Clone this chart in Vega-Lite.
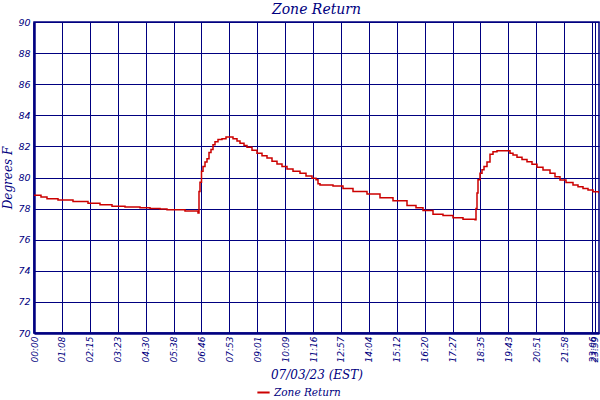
{
  "$schema": "https://vega.github.io/schema/vega-lite/v6.json",
  "width": 565,
  "height": 311,
  "autosize": {"type": "none"},
  "padding": {"left": 34, "top": 22, "right": 1, "bottom": 67},
  "background": "white",
  "title": {
    "text": "Zone Return",
    "font": "DejaVu Serif",
    "fontStyle": "italic",
    "fontWeight": "normal",
    "fontSize": 14,
    "color": "#000080",
    "anchor": "middle",
    "offset": 0
  },
  "config": {
    "view": {"stroke": "#000080", "strokeWidth": 1.5},
    "axis": {
      "labelColor": "#000080",
      "titleColor": "#000080",
      "gridColor": "#000080",
      "gridOpacity": 1,
      "gridWidth": 1,
      "domainColor": "#000080",
      "domainWidth": 2.5,
      "ticks": false,
      "labelFont": "DejaVu Sans",
      "labelFontStyle": "italic",
      "labelFontSize": 9,
      "titleFont": "DejaVu Serif",
      "titleFontStyle": "italic",
      "titleFontWeight": "normal",
      "titleFontSize": 12
    }
  },
  "data": {
    "values": [
      {"sample": 0, "temp": 78.86},
      {"sample": 7, "temp": 78.75},
      {"sample": 13, "temp": 78.63},
      {"sample": 24, "temp": 78.55},
      {"sample": 39, "temp": 78.45},
      {"sample": 54, "temp": 78.35},
      {"sample": 66, "temp": 78.25},
      {"sample": 78, "temp": 78.15},
      {"sample": 91, "temp": 78.1},
      {"sample": 106, "temp": 78.05},
      {"sample": 116, "temp": 78.0},
      {"sample": 126, "temp": 77.98},
      {"sample": 133, "temp": 77.92},
      {"sample": 151, "temp": 77.85},
      {"sample": 164, "temp": 77.72},
      {"sample": 165, "temp": 79.1},
      {"sample": 166, "temp": 79.7},
      {"sample": 167.5, "temp": 80.4},
      {"sample": 169, "temp": 80.7},
      {"sample": 171, "temp": 81.0},
      {"sample": 173, "temp": 81.2},
      {"sample": 175, "temp": 81.6},
      {"sample": 177, "temp": 81.8},
      {"sample": 179, "temp": 82.1},
      {"sample": 181, "temp": 82.3},
      {"sample": 184, "temp": 82.45},
      {"sample": 188, "temp": 82.5},
      {"sample": 192, "temp": 82.6},
      {"sample": 199, "temp": 82.5},
      {"sample": 203, "temp": 82.35},
      {"sample": 206, "temp": 82.2},
      {"sample": 210, "temp": 82.05},
      {"sample": 213, "temp": 81.95},
      {"sample": 218, "temp": 81.75},
      {"sample": 223, "temp": 81.56},
      {"sample": 228, "temp": 81.4},
      {"sample": 233, "temp": 81.25},
      {"sample": 238, "temp": 81.05},
      {"sample": 243, "temp": 80.87},
      {"sample": 248, "temp": 80.7},
      {"sample": 253, "temp": 80.55},
      {"sample": 259, "temp": 80.4},
      {"sample": 266, "temp": 80.27},
      {"sample": 272, "temp": 80.1},
      {"sample": 278, "temp": 79.95},
      {"sample": 282, "temp": 79.85},
      {"sample": 284, "temp": 79.6},
      {"sample": 286, "temp": 79.52},
      {"sample": 299, "temp": 79.45},
      {"sample": 309, "temp": 79.3},
      {"sample": 319, "temp": 79.1},
      {"sample": 333, "temp": 78.94},
      {"sample": 346, "temp": 78.7},
      {"sample": 359, "temp": 78.5},
      {"sample": 373, "temp": 78.2},
      {"sample": 382, "temp": 78.05},
      {"sample": 389, "temp": 77.87},
      {"sample": 399, "temp": 77.63},
      {"sample": 409, "temp": 77.55},
      {"sample": 419, "temp": 77.41},
      {"sample": 429, "temp": 77.31},
      {"sample": 441, "temp": 77.28},
      {"sample": 442, "temp": 78.0},
      {"sample": 443, "temp": 79.0},
      {"sample": 444, "temp": 79.85},
      {"sample": 446, "temp": 80.27},
      {"sample": 448, "temp": 80.5},
      {"sample": 450, "temp": 80.7},
      {"sample": 453, "temp": 81.0},
      {"sample": 456, "temp": 81.5},
      {"sample": 459, "temp": 81.65},
      {"sample": 463, "temp": 81.72},
      {"sample": 473, "temp": 81.72},
      {"sample": 476, "temp": 81.56},
      {"sample": 479, "temp": 81.45},
      {"sample": 483, "temp": 81.3},
      {"sample": 488, "temp": 81.15},
      {"sample": 493, "temp": 81.02},
      {"sample": 498, "temp": 80.85},
      {"sample": 503, "temp": 80.66},
      {"sample": 509, "temp": 80.48},
      {"sample": 516, "temp": 80.27},
      {"sample": 521, "temp": 80.05},
      {"sample": 526, "temp": 79.84},
      {"sample": 532, "temp": 79.68},
      {"sample": 539, "temp": 79.52},
      {"sample": 544, "temp": 79.4},
      {"sample": 549, "temp": 79.3},
      {"sample": 554, "temp": 79.2},
      {"sample": 559, "temp": 79.09},
      {"sample": 565, "temp": 78.98}
    ]
  },
  "mark": {"type": "line", "interpolate": "step-after", "strokeWidth": 1.5, "clip": true},
  "encoding": {
    "x": {
      "field": "sample",
      "type": "quantitative",
      "scale": {"domain": [0, 565], "nice": false, "zero": false},
      "axis": {
        "title": "07/03/23 (EST)",
        "titlePadding": 8,
        "values": [0, 27.9, 55.8, 83.7, 111.6, 139.5, 167.4, 195.3, 223.2, 251.1, 279, 306.9, 334.8, 362.7, 390.6, 418.5, 446.4, 474.3, 502.2, 530.1, 558, 560.5],
        "labelAngle": 270,
        "labelAlign": "right",
        "labelBaseline": "middle",
        "labelPadding": 3,
        "labelOverlap": false,
        "labelFlush": false,
        "labelExpr": "datum.value > 559 ? '23:59' : ['00:00','01:08','02:15','03:23','04:30','05:38','06:46','07:53','09:01','10:09','11:16','12:57','14:04','15:12','16:20','17:27','18:35','19:43','20:51','21:58','23:06'][round(datum.value / 27.9)]"
      }
    },
    "y": {
      "field": "temp",
      "type": "quantitative",
      "scale": {"domain": [70, 90], "nice": false, "zero": false},
      "axis": {
        "title": "Degrees F",
        "titlePadding": 3,
        "values": [70, 72, 74, 76, 78, 80, 82, 84, 86, 88, 90],
        "labelPadding": 4,
        "labelFontSize": 9.5,
        "labelFlush": false
      }
    },
    "color": {
      "datum": "Zone Return",
      "type": "nominal",
      "scale": {"range": ["#cc0000"]},
      "legend": {
        "title": null,
        "orient": "none",
        "legendX": 222,
        "legendY": 363,
        "symbolType": "stroke",
        "symbolStrokeWidth": 2,
        "symbolSize": 150,
        "labelFont": "DejaVu Serif",
        "labelFontStyle": "italic",
        "labelFontSize": 10.5,
        "labelColor": "#000080",
        "labelOffset": 3
      }
    }
  }
}
